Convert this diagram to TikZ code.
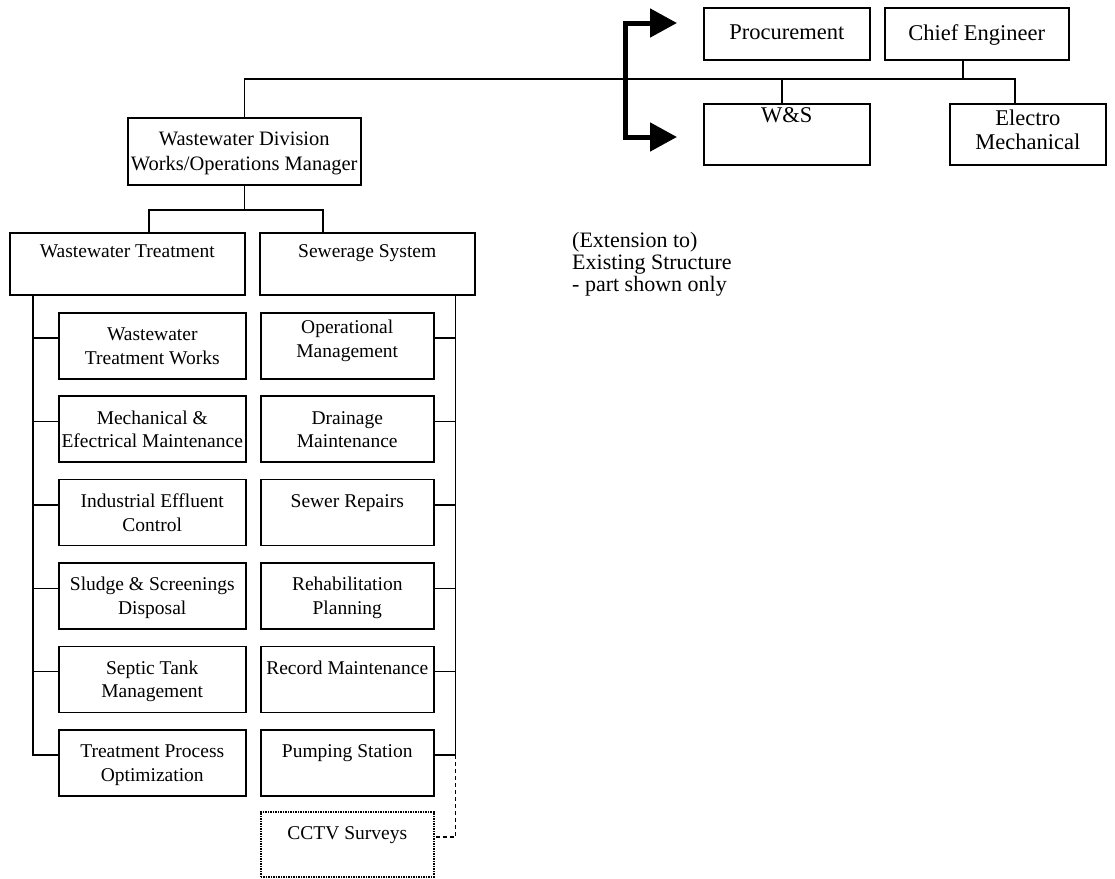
\documentclass[tikz,border=0pt]{standalone}
\usepackage{fontspec}
\setmainfont{Liberation Serif}
\usetikzlibrary{arrows.meta}
\newcommand\boxtxt[4]{\parbox[c][#2][t]{#1}{\centering\vspace*{#3}\rule{0pt}{14pt}\ignorespaces#4\par}}
\newcommand\topfont{\fontsize{22.5pt}{24.5pt}\selectfont}
\newcommand\midfont{\fontsize{20.5pt}{25pt}\selectfont}
\begin{document}
\begin{tikzpicture}[x=1pt,y=-1pt,
  every node/.style={font=\fontsize{19.5pt}{23.5pt}\selectfont},
  box/.style={draw, line width=1.5pt, inner sep=0pt, anchor=north west},
  dotbox/.style={box, densely dotted},
  conn/.style={line width=1.4pt},
  dconn/.style={line width=1.4pt, dashed, dash pattern=on 4pt off 3pt},
  bigarrow/.style={line width=5pt, line join=miter,
    {Triangle[length=27pt,width=28pt]}-{Triangle[length=27pt,width=28pt]}},
  note/.style={anchor=base west, align=left, inner sep=0pt, font=\fontsize{22pt}{22pt}\selectfont}
]
\useasboundingbox (0,0) rectangle (1115,878);

% top existing structure
\node[box] (proc)  at (703,7)   {\boxtxt{166pt}{52pt}{17pt}{\topfont Procurement}};
\node[box] (chief) at (884,7)   {\boxtxt{184pt}{52pt}{17pt}{\topfont Chief Engineer}};
\node[box] (ws)    at (703,103) {\boxtxt{166pt}{61pt}{4pt}{\topfont W\&S}};
\node[box] (em)    at (949,103) {\boxtxt{156pt}{61pt}{6pt}{\topfont Electro\\Mechanical}};

% main division
\node[box] (wdiv) at (127,117) {\boxtxt{233pt}{67pt}{14pt}{\midfont Wastewater Division\\Works/Operations Manager}};
\node[box] (wt) at (9,232)   {\boxtxt{235pt}{62pt}{11pt}{Wastewater Treatment}};
\node[box] (ss) at (259,232) {\boxtxt{215pt}{62pt}{11pt}{Sewerage System}};

% left children
\node[box] (l1) at (58,312)   {\boxtxt{187pt}{66pt}{14pt}{Wastewater\\Treatment Works}};
\node[box] (l2) at (58,395.4) {\boxtxt{187pt}{66pt}{14pt}{Mechanical \&\\Efectrical Maintenance}};
\node[box] (l3) at (58,478.8) {\boxtxt{187pt}{66pt}{14pt}{Industrial Effluent\\Control}};
\node[box] (l4) at (58,562.2) {\boxtxt{187pt}{66pt}{14pt}{Sludge \& Screenings\\Disposal}};
\node[box] (l5) at (58,645.6) {\boxtxt{187pt}{66pt}{14pt}{Septic Tank\\Management}};
\node[box] (l6) at (58,729)   {\boxtxt{187pt}{66pt}{14pt}{Treatment Process\\Optimization}};

% right children
\node[box] (r1) at (260,312)   {\boxtxt{173pt}{66pt}{7pt}{Operational\\Management}};
\node[box] (r2) at (260,395.4) {\boxtxt{173pt}{66pt}{14pt}{Drainage\\Maintenance}};
\node[box] (r3) at (260,478.8) {\boxtxt{173pt}{66pt}{14pt}{Sewer Repairs}};
\node[box] (r4) at (260,562.2) {\boxtxt{173pt}{66pt}{14pt}{Rehabilitation\\Planning}};
\node[box] (r5) at (260,645.6) {\boxtxt{173pt}{66pt}{14pt}{Record Maintenance}};
\node[box] (r6) at (260,729)   {\boxtxt{173pt}{66pt}{14pt}{Pumping Station}};
\node[dotbox] (r7) at (260,811) {\boxtxt{173pt}{65pt}{14pt}{CCTV Surveys}};

% note
\node[note] (note) at (572,291) {(Extension to)\\Existing Structure\\- part shown only};

% top bus
\coordinate (bus) at (0,79);
\path ([xshift=66pt]em.north west) coordinate (emc)
      ([xshift=79pt]chief.south west) coordinate (chc)
      ([xshift=79pt]ws.north west) coordinate (wsc);
\draw[conn] (wdiv.north) -- (wdiv.north |- bus) -| (emc);
\draw[conn] (chc) -- (chc |- bus);
\draw[conn] (wsc) -- (wsc |- bus);

% thick arrows
\coordinate (a1) at (677,23);
\coordinate (a2) at (677,137);
\coordinate (ac1) at (625,23);
\coordinate (ac2) at (625,137);
\draw[bigarrow] (a1) -- (ac1) -- (ac2) -- (a2);

% division to sections
\coordinate (bus2) at (0,210);
\path ([xshift=140pt]wt.north west) coordinate (wtc)
      ([xshift=64pt]ss.north west) coordinate (ssc);
\draw[conn] (wdiv.south) -- (wdiv.south |- bus2);
\draw[conn] (wtc) |- (ssc |- bus2) -- (ssc);

% left spine
\path ([xshift=24pt]wt.south west) coordinate (ls);
\foreach \n in {l1,l2,l3,l4,l5,l6}
  \path ([yshift=-26pt]\n.north west) coordinate (\n c);
\draw[conn] (ls) |- (l6c);
\foreach \n in {l1,l2,l3,l4,l5}
  \draw[conn] (ls |- \n c) -- (\n c);

% right spine
\path ([xshift=-20pt]ss.south east) coordinate (rs);
\foreach \n in {r1,r2,r3,r4,r5,r6,r7}
  \path ([yshift=-26pt]\n.north east) coordinate (\n c);
\draw[conn] (rs) |- (r6c);
\foreach \n in {r1,r2,r3,r4,r5}
  \draw[conn] (rs |- \n c) -- (\n c);
\draw[dconn] (rs |- r6c) |- (r7c);
\end{tikzpicture}
\end{document}
